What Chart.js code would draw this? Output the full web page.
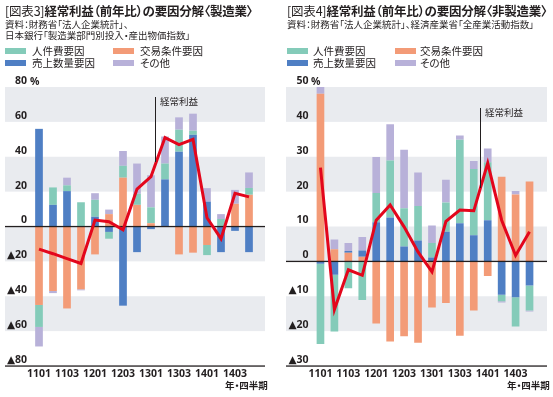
<!DOCTYPE html>
<html>
<head>
<meta charset="utf-8">
<script src="https://cdn.jsdelivr.net/npm/chart.js@4.4.1/dist/chart.umd.min.js"></script>
<style>
  body { margin: 0; width: 553px; height: 397px; position: relative; overflow: hidden; background: #fff;
    font-family: "Noto Sans CJK JP", "Noto Sans", sans-serif; color: #231f20; font-feature-settings: "palt"; }
  .panel { position: absolute; top: 0; height: 397px; }
  .panel canvas { position: absolute; top: 0; left: 0; }
  .txt { position: absolute; white-space: nowrap; }
  .title { top: 2px; font-size: 12.5px; line-height: 17px; font-weight: 700; letter-spacing: -0.2px; }
  .title span { font-weight: 400; }
  .src { font-size: 9.5px; line-height: 11px; }
  .leg { font-size: 10.5px; line-height: 12px; }
  .sw { position: absolute; width: 21px; height: 6px; }
  .unit { font-size: 10.5px; line-height: 12px; font-weight: 700; top: 75px; font-family: "Open Sans", sans-serif; }
  .note { font-size: 9.5px; line-height: 11px; }
  .vline { position: absolute; width: 1px; background: #231f20; }
  .xname { font-size: 9.5px; line-height: 11px; font-weight: 700; top: 380px; }
</style>
</head>
<body>

<div class="panel" style="left:0;width:276px;">
  <canvas id="mfg" width="276" height="397"></canvas>
  <div class="txt title" style="left:5px;"><span>[図表3]</span>経常利益（前年比）の要因分解〈製造業〉</div>
  <div class="txt src" style="left:5px;top:19px;">資料：財務省「法人企業統計」、</div>
  <div class="txt src" style="left:5px;top:30px;">日本銀行「製造業部門別投入・産出物価指数」</div>
  <div class="sw" style="left:5px;top:48px;background:#84cbb9;"></div>
  <div class="txt leg" style="left:32px;top:45px;">人件費要因</div>
  <div class="sw" style="left:113px;top:48px;background:#f39b77;"></div>
  <div class="txt leg" style="left:140px;top:45px;">交易条件要因</div>
  <div class="sw" style="left:5px;top:60px;background:#4f7fc4;"></div>
  <div class="txt leg" style="left:32px;top:57px;">売上数量要因</div>
  <div class="sw" style="left:113px;top:60px;background:#b8b1d9;"></div>
  <div class="txt leg" style="left:140px;top:57px;">その他</div>
  <div class="txt unit" style="left:30px;">%</div>
  <div class="vline" style="left:155px;top:97px;height:65px;"></div>
  <div class="txt note" style="left:160px;top:96px;">経常利益</div>
  <div class="txt xname" style="left:225px;">年・四半期</div>
</div>

<div class="panel" style="left:276px;width:277px;">
  <canvas id="nonmfg" width="277" height="397"></canvas>
  <div class="txt title" style="left:11px;"><span>[図表4]</span>経常利益（前年比）の要因分解〈非製造業〉</div>
  <div class="txt src" style="left:11px;top:19px;">資料：財務省「法人企業統計」、経済産業省「全産業活動指数」</div>
  <div class="sw" style="left:11px;top:48px;background:#84cbb9;"></div>
  <div class="txt leg" style="left:37px;top:45px;">人件費要因</div>
  <div class="sw" style="left:119px;top:48px;background:#f39b77;"></div>
  <div class="txt leg" style="left:144px;top:45px;">交易条件要因</div>
  <div class="sw" style="left:11px;top:60px;background:#4f7fc4;"></div>
  <div class="txt leg" style="left:37px;top:57px;">売上数量要因</div>
  <div class="sw" style="left:119px;top:60px;background:#b8b1d9;"></div>
  <div class="txt leg" style="left:144px;top:57px;">その他</div>
  <div class="txt unit" style="left:35px;">%</div>
  <div class="vline" style="left:204px;top:108px;height:80px;"></div>
  <div class="txt note" style="left:209px;top:107px;">経常利益</div>
  <div class="txt xname" style="left:231px;">年・四半期</div>
</div>

<script>
// quarters 2011Q1 .. 2014Q4
var quarters = ['1101', '1102', '1103', '1104', '1201', '1202', '1203', '1204',
  '1301', '1302', '1303', '1304', '1401', '1402', '1403', '1404'];

// manufacturing (%)
var mfgLabor  = [-12.6, 10, 3.3, 13.9, 9.7, -3.9, 6.8, 6.3, 9.1, 9.1, 12.6, 2.3, -5.8, 4.3, 0, 3.9];
var mfgTrade  = [-45, -37, -47, -36, -16, 7.1, 28, 12.4, 1.9, 0, -16, -15, -10.6, 0, 13, 18.2];
var mfgVolume = [56, 12.4, 20.3, 0, 5.6, -3.1, -45.4, -14.7, -1.5, 27, 42.9, 52.6, 14.3, -14.7, -2.5, -14.7];
var mfgOther  = [-11.2, -1.2, 4.4, -0.6, 3.8, 2.6, 8.5, 17.4, 18.4, 15.5, 7.1, 9.8, 7.7, 2.8, 8, 8.9];
var mfgProfit = [-13, -15.6, -18.4, -21.2, 3.7, 2.7, -1.9, 21.5, 28.6, 51, 47, 50, 5, -7, 19, 17];
var mfgTicks  = [80, 60, 40, 20, 0, -20, -40, -60, -80];

// non-manufacturing (%)
var nonLabor  = [-23, -16.3, -7.7, -11.1, 8.4, 16.3, 10.9, 9.9, 4.2, 8.4, 24, 19, 16.6, -1.8, -8.4, -7.2];
var nonTrade  = [48.1, 3.5, 2.5, 1.3, -17.8, -23, -21.5, -23.3, -13.2, -11.9, -21.3, -14.1, -4.2, 24.3, 19.2, 22.9];
var nonVolume = [-0.7, -3.8, 0.5, 1.8, 11.2, 12.6, 4.3, 6.0, 1.1, 8.5, 10.9, 7.5, 11.8, -9.6, -10.3, -6.9];
var nonOther  = [1.9, 2.8, 2.3, 3.9, 10.3, 10.4, 16.8, 9.6, 5.0, 6.5, 1.2, 2.3, 4.0, -0.4, 1.0, -0.3];
var nonProfit = [26.9, -13.8, -2.4, -4.0, 11.8, 16.2, 9.9, 2.7, -3.0, 11.5, 14.7, 14.5, 28.2, 11.8, 1.7, 8.5];
var nonTicks  = [50, 40, 30, 20, 10, 0, -10, -20, -30];

var TEAL = '#84cbb9';
var ORANGE = '#f39b77';
var BLUE = '#4f7fc4';
var LAV = '#b8b1d9';
var RED = '#e3061c';
var BAND = '#e9ebef';
var INK = '#231f20';
var TICK_FONT = '"Open Sans", "DejaVu Sans", sans-serif';

var bandsPlugin = {
  id: 'bands',
  beforeDraw: function (chart, args, o) {
    var y = chart.scales.y;
    var ctx = chart.ctx;
    ctx.save();
    ctx.fillStyle = BAND;
    for (var i = 0; i < o.ticks.length - 1; i++) {
      if (i % 2 === 0) {
        var top = y.getPixelForValue(o.ticks[i]);
        var bot = y.getPixelForValue(o.ticks[i + 1]);
        ctx.fillRect(o.x0, top, o.x1 - o.x0, bot - top);
      }
    }
    ctx.fillStyle = INK;
    ctx.fillRect(o.x0, y.getPixelForValue(y.min) - 0.6, o.x1 - o.x0, 1.3);
    ctx.restore();
  },
  beforeDatasetDraw: function (chart, args, o) {
    if (chart.data.datasets[args.index].type !== 'line') {
      return;
    }
    var p = chart.scales.y.getPixelForValue(0);
    chart.ctx.save();
    chart.ctx.fillStyle = INK;
    chart.ctx.fillRect(o.x0, p - 0.6, o.x1 - o.x0, 1.3);
    chart.ctx.restore();
  }
};

function buildChart(id, d) {
  return new Chart(document.getElementById(id), {
    type: 'bar',
    data: {
      labels: quarters,
      datasets: [
        { label: '交易条件要因', data: d.trade, backgroundColor: ORANGE, stack: 'f', order: 1 },
        { label: '売上数量要因', data: d.volume, backgroundColor: BLUE, stack: 'f', order: 1 },
        { label: '人件費要因', data: d.labor, backgroundColor: TEAL, stack: 'f', order: 1 },
        { label: 'その他', data: d.other, backgroundColor: LAV, stack: 'f', order: 1 },
        {
          type: 'line', label: '経常利益', data: d.profit, stack: 'p', order: 0,
          borderColor: RED, borderWidth: 3, pointRadius: 0, tension: 0,
          borderJoinStyle: 'miter', fill: false
        }
      ]
    },
    options: {
      responsive: false,
      animation: false,
      layout: { padding: { top: 87, right: d.padRight, left: 0, bottom: 0 } },
      datasets: { bar: { barPercentage: 0.55, categoryPercentage: 1 } },
      plugins: {
        legend: { display: false },
        tooltip: { enabled: false },
        bands: { ticks: d.ticks, x0: d.x0, x1: d.x1 }
      },
      scales: {
        x: {
          stacked: true,
          grid: { display: false, drawTicks: false },
          border: { display: false },
          ticks: {
            autoSkip: false, maxRotation: 0, padding: 2, color: INK,
            font: { family: TICK_FONT, size: 10.5, weight: 'bold' },
            callback: function (v, i) { return i % 2 === 0 ? quarters[i] : ''; }
          },
          afterFit: function (s) { s.height = 31; }
        },
        y: {
          stacked: true,
          min: d.ticks[d.ticks.length - 1],
          max: d.ticks[0],
          grid: { display: false, drawTicks: false },
          border: { display: false },
          ticks: {
            stepSize: d.ticks[0] - d.ticks[1],
            labelOffset: -6, padding: 5, color: INK,
            font: { family: TICK_FONT, size: 10.5, weight: 'bold' },
            callback: function (v) { return v < 0 ? '▲' + (-v) : String(v); }
          },
          afterFit: function (s) { s.width = d.axisWidth; }
        }
      }
    },
    plugins: [bandsPlugin]
  });
}

Promise.all([
  document.fonts.load('bold 10px "Noto Sans CJK JP"'),
  document.fonts.load('bold 10px "Open Sans"'),
  document.fonts.load('bold 10px "DejaVu Sans"')
]).then(function () {
  buildChart('mfg', {
    labor: mfgLabor, trade: mfgTrade, volume: mfgVolume, other: mfgOther, profit: mfgProfit,
    ticks: mfgTicks, axisWidth: 32, padRight: 20, x0: 5, x1: 265
  });
  buildChart('nonmfg', {
    labor: nonLabor, trade: nonTrade, volume: nonVolume, other: nonOther, profit: nonProfit,
    ticks: nonTicks, axisWidth: 37.5, padRight: 16.5, x0: 10, x1: 271
  });
});
</script>
</body>
</html>
